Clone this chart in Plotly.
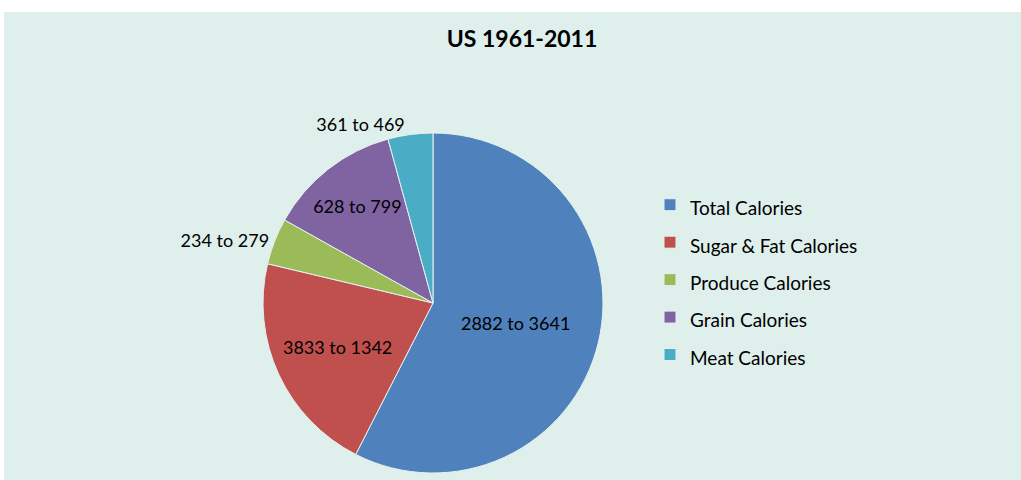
import plotly.graph_objects as go

# Daily per-capita calories, US, 1961 vs 2011
categories = ["Total Calories", "Sugar & Fat Calories", "Produce Calories",
              "Grain Calories", "Meat Calories"]
kcal_1961 = [2882, 3833, 234, 628, 361]
kcal_2011 = [3641, 1342, 279, 799, 469]
# slice sizes as charted
slice_kcal = [3641, 1342, 279, 799, 270]

colors = ["#4F81BD", "#C0504D", "#9BBB59", "#8064A2", "#4BACC6"]
panel_bg = "#DEEFEC"
font_family = "Lato, 'Open Sans', sans-serif"

slice_text = [f"{a} to {b}" for a, b in zip(kcal_1961, kcal_2011)]
legend_labels = [f"<span style='font-size:19px'>{c}</span>" for c in categories]

W, H = 1021, 480
ML, MT = 4, 12
PW, PH = W - ML, H - MT

# pie placement (pixels -> paper fractions)
cx, cy, r = 433, 303, 170
dom_x = [(cx - r - ML) / PW, (cx + r - ML) / PW]
dom_y = [(H - (cy + r)) / PH, (H - (cy - r)) / PH]

fig = go.Figure(go.Pie(
    labels=legend_labels,
    values=slice_kcal,
    text=slice_text,
    textinfo="text",
    textposition=["inside", "inside", "outside", "inside", "outside"],
    insidetextorientation="horizontal",
    textfont=dict(family=font_family, size=18, color="black"),
    sort=False,
    direction="clockwise",
    rotation=0,
    marker=dict(colors=colors, line=dict(color="#E6F2F0", width=1)),
    domain=dict(x=dom_x, y=dom_y),
    hoverinfo="text",
))

fig.update_layout(
    width=W, height=H,
    margin=dict(l=ML, r=0, t=MT, b=0),
    paper_bgcolor="white",
    font=dict(family=font_family, color="black"),
    title=dict(text="<b>US 1961-2011</b>", x=522 / W, xanchor="center",
               y=1 - 39 / H, yanchor="middle",
               font=dict(family=font_family, size=23, color="black")),
    uniformtext=dict(minsize=18, mode="show"),
    legend=dict(x=(650 - ML) / PW, xanchor="left", y=(H - 280) / PH,
                yanchor="middle", font=dict(size=26.5, family=font_family),
                bgcolor="rgba(0,0,0,0)"),
    shapes=[dict(type="rect", xref="paper", yref="paper", x0=0, x1=1,
                 y0=0, y1=1, fillcolor=panel_bg, line=dict(width=0),
                 layer="below")],
)

fig.write_html("out.html")
